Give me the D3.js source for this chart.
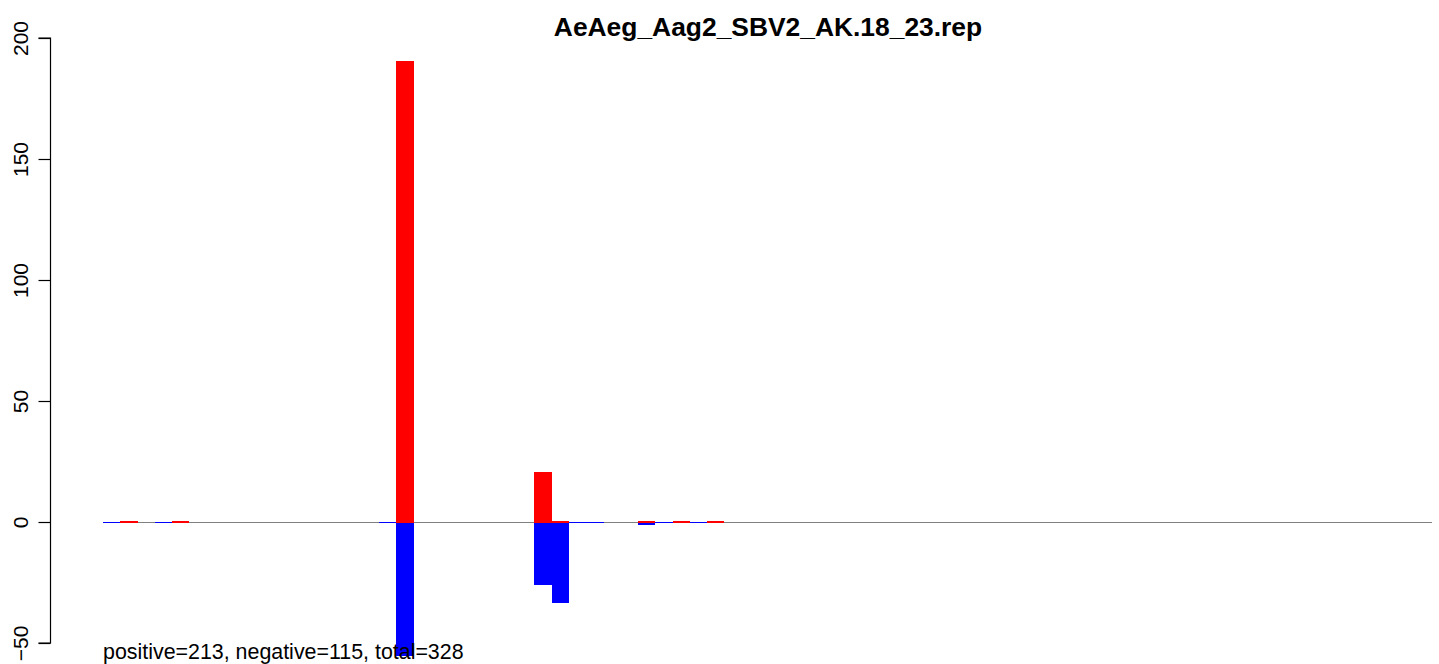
<!DOCTYPE html>
<html>
<head>
<meta charset="utf-8">
<script src="https://cdn.jsdelivr.net/npm/d3@7"></script>
<style>
  html, body { margin: 0; padding: 0; background: #fff; }
  svg { display: block; font-family: "Liberation Sans", Arial, Helvetica, sans-serif; }
</style>
</head>
<body>
<svg id="chart" width="1439" height="664"></svg>
<script>
// ---- data ----
const title = "AeAeg_Aag2_SBV2_AK.18_23.rep";
const nBins = 77;
const barBins  = [0, 1, 3, 4, 16, 17, 25, 26, 27, 28, 31, 32, 33, 34, 35];
const positive = [null, 0.3, null, 0.3, null, 190.5, 20.8, 0.6, null, null, 0.3, null, 0.3, null, 0.3];
const negative = [-0.3, null, -0.3, null, -0.3, -55.3, -26, -33.3, -0.3, -0.3, -1.2, -0.3, null, -0.3, null];
const yTicks = [-50, 0, 50, 100, 150, 200];
const footnote = "positive=213, negative=115, total=328";

// ---- drawing ----
const svg = d3.select("#chart");
const x = d3.scaleBand().domain(d3.range(nBins + 1)).range([103, 1432 + 1329 / nBins]).paddingInner(0).paddingOuter(0);
const y = d3.scaleLinear().domain([-50, 200]).range([643, 38]);
const zeroRow = Math.round(y(0));
const bx = b => Math.round(x(b));
const bw = b => Math.round(x(b + 1)) - Math.round(x(b));

// baseline
svg.append("rect")
  .attr("x", bx(0)).attr("width", bx(nBins) - bx(0))
  .attr("y", zeroRow).attr("height", 1)
  .attr("fill", "#808080");

const rows = barBins.map((b, i) => ({ bin: b, pos: positive[i], neg: negative[i] }));

// negative (blue) bars, drawn first
svg.append("g").selectAll("rect")
  .data(rows.filter(d => d.neg !== null))
  .join("rect")
  .attr("x", d => bx(d.bin))
  .attr("width", d => bw(d.bin))
  .attr("y", zeroRow)
  .attr("height", d => Math.max(1, Math.round(y(d.neg)) - zeroRow))
  .attr("fill", "#0000ff")
  .attr("shape-rendering", "crispEdges");

// positive (red) bars
svg.append("g").selectAll("rect")
  .data(rows.filter(d => d.pos !== null))
  .join("rect")
  .attr("x", d => bx(d.bin))
  .attr("width", d => bw(d.bin))
  .attr("y", d => Math.min(Math.round(y(d.pos)), zeroRow))
  .attr("height", d => zeroRow + 1 - Math.min(Math.round(y(d.pos)), zeroRow))
  .attr("fill", "#ff0000")
  .attr("shape-rendering", "crispEdges");

// y axis
const axis = d3.axisLeft(y).tickValues(yTicks).tickSize(12).tickPadding(0).tickFormat(d => d < 0 ? "\u2212" + Math.abs(d) : d);
const ag = svg.append("g").attr("transform", "translate(50.5,0)").call(axis);
ag.select(".domain").attr("d", `M-12,${y(-50)}H0V${y(200)}H-12`).attr("stroke", "#000").attr("stroke-width", 1.2);
ag.selectAll(".tick line").attr("stroke", "#000").attr("stroke-width", 1.2);
ag.selectAll(".tick text")
  .attr("x", null).attr("dy", null)
  .attr("transform", "translate(-23,0) rotate(-90)")
  .attr("text-anchor", "middle")
  .attr("font-size", 21)
  .attr("fill", "#000")
  .attr("font-family", "Liberation Sans, Arial, sans-serif");

// title
svg.append("text")
  .attr("x", 768).attr("y", 36)
  .attr("text-anchor", "middle")
  .attr("font-weight", "bold")
  .attr("font-size", 26.4)
  .text(title);

// footnote
svg.append("text")
  .attr("x", 103).attr("y", 659)
  .attr("font-size", 21.4)
  .text(footnote);
</script>
</body>
</html>
